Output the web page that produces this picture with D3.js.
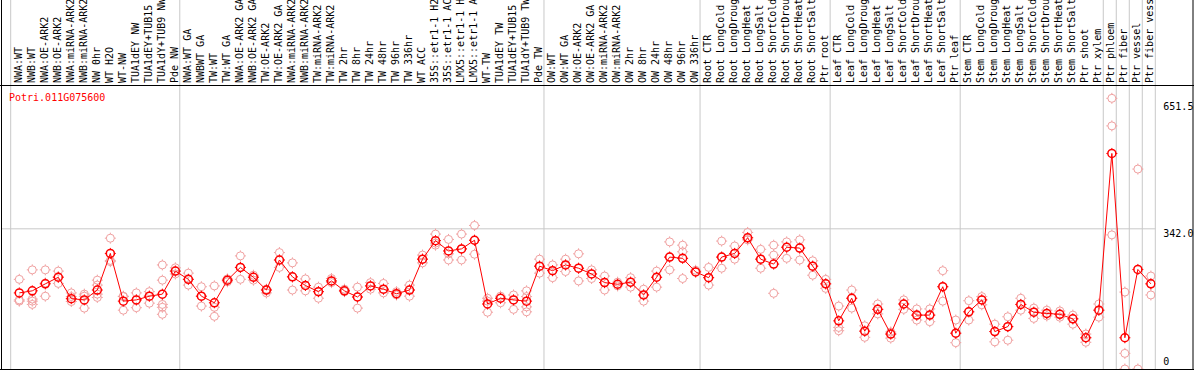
<!DOCTYPE html>
<html>
<head>
<meta charset="utf-8">
<script src="https://cdn.jsdelivr.net/npm/d3@7"></script>
<style>
  body { margin: 0; background: #fff; }
  svg { display: block; }
  text { font-family: "DejaVu Sans Mono", monospace; font-size: 10px; }
</style>
</head>
<body>
<script>
// sample names, in plot order
var categories = [
  "NWA:WT", "NWB:WT", "NWA:OE-ARK2", "NWB:OE-ARK2", "NWA:miRNA-ARK2", "NWB:miRNA-ARK2",
  "NW 0hr", "WT H2O", "WT-NW", "TUA1dEY NW", "TUA1dEY+TUB15", "TUA1dY+TUB9 NW", "Pde NW",
  "NWA:WT GA", "NWBWT GA", "TW:WT", "TW:WT GA", "NWA:OE-ARK2 GA", "NWB:OE-ARK2 GA",
  "TW:OE-ARK2", "TW:OE-ARK2 GA", "NWA:miRNA-ARK2 ", "NWB:miRNA-ARK2 ", "TW:miRNA-ARK2",
  "TW:miRNA-ARK2 ", "TW 2hr", "TW 8hr", "TW 24hr", "TW 48hr", "TW 96hr", "TW 336hr", "WT ACC",
  "35S::etr1-1 H2O", "35S::etr1-1 ACC", "LMX5::etr1-1 H2O", "LMX5::etr1-1 ACC", "WT-TW",
  "TUA1dEY TW", "TUA1dEY+TUB15 ", "TUA1dY+TUB9 TW", "Pde TW",
  "OW:WT", "OW:WT GA", "OW:OE-ARK2", "OW:OE-ARK2 GA", "OW:miRNA-ARK2", "OW:miRNA-ARK2 ",
  "OW 2hr", "OW 8hr", "OW 24hr", "OW 48hr", "OW 96hr", "OW 336hr",
  "Root CTR", "Root LongCold", "Root LongDrought", "Root LongHeat", "Root LongSalt",
  "Root ShortCold", "Root ShortDrought", "Root ShortHeat", "Root ShortSalt", "Ptr root",
  "Leaf CTR", "Leaf LongCold", "Leaf LongDrought", "Leaf LongHeat", "Leaf LongSalt",
  "Leaf ShortCold", "Leaf ShortDrought", "Leaf ShortHeat", "Leaf ShortSalt", "Ptr leaf",
  "Stem CTR", "Stem LongCold", "Stem LongDrought", "Stem LongHeat", "Stem LongSalt",
  "Stem ShortCold", "Stem ShortDrought", "Stem ShortHeat", "Stem ShortSalt", "Ptr shoot",
  "Ptr xylem", "Ptr phloem", "Ptr fiber", "Ptr vessel", "Ptr fiber vessel"
];
var groupSizes = [13, 28, 12, 10, 10, 11, 1, 1, 1, 1];

var geneName = "Potri.011G075600";

// mean expression per sample
var means = [
  185, 190, 207, 223, 171, 168, 192, 281, 165, 168, 177, 182, 238,
  218, 177, 161, 216, 247, 223, 192, 265, 224, 203, 188, 214, 190, 175, 202, 194, 183, 192,
  267, 312, 287, 292, 313, 158, 172, 168, 165, 250,
  239, 253, 245, 231, 210, 206, 211, 180, 223, 272, 269, 236,
  222, 272, 281, 319, 267, 255, 296, 294, 250, 207,
  117, 172, 92, 145, 85, 158, 131, 131, 200, 87,
  139, 168, 91, 103, 157, 138, 135, 133, 122, 76, 143,
  524, 76, 242, 207
];

// replicate values per sample
var reps = [
  [218, 165, 168], [241, 170, 157, 165], [241, 177, 209], [238, 208, 224], [185, 164, 176],
  [182, 148, 177], [216, 182, 174, 204], [318, 261, 264], [176, 143, 177], [185, 149, 168],
  [188, 160, 177], [253, 216, 157, 150, 133], [246, 238, 231],
  [233, 204, 218], [200, 153, 177], [202, 150, 128], [212, 219, 216], [275, 218, 247],
  [228, 216, 224], [185, 194, 192], [283, 247, 265], [258, 192, 224], [219, 190, 203],
  [199, 172, 188], [220, 214, 210], [194, 190, 188], [199, 148, 175], [210, 194, 202],
  [208, 185, 194], [188, 180, 183], [204, 177, 192], [277, 258, 267], [328, 301, 306],
  [315, 265, 280], [328, 265, 292], [349, 279, 313], [172, 138, 165], [177, 161, 172],
  [180, 145, 168], [190, 176, 151, 139], [267, 233, 250],
  [253, 222, 239], [267, 237, 253], [280, 214, 245], [241, 220, 231], [226, 192, 210],
  [211, 202, 206], [222, 199, 211], [194, 165, 180], [238, 199, 223], [309, 241, 272],
  [301, 285, 220], [236, 240],
  [247, 204, 222], [311, 245, 272], [299, 267, 281], [332, 314, 319], [291, 245, 267],
  [301, 277, 184], [309, 269, 296], [314, 265, 294], [263, 228, 250], [218, 196, 207],
  [153, 101, 93], [192, 148, 172], [105, 77, 92], [158, 134, 145], [75, 90, 85],
  [168, 145, 158], [146, 119, 131], [146, 115, 131], [239, 165, 200], [119, 64, 87],
  [166, 119, 139], [176, 156, 168], [109, 66, 91], [127, 70, 103], [172, 143, 157],
  [148, 123, 138], [143, 129, 135], [126, 141, 133], [131, 109, 122], [85, 65, 76],
  [158, 126, 143],
  [658, 591, 326], [187, 38, 0], [486, 0], [226, 180, 207]
];

var tickValues = [651.5, 342.0, 0];
var tickLabels = ["651.5", "342.0", "0"];

var W = 1194, H = 370;
var headerBottom = 85, plotBottom = 369;
var plotLeft = 10.7, plotRight = 1155.3;

var svg = d3.select("body").append("svg")
    .attr("width", W)
    .attr("height", H);

var x = d3.scaleBand()
    .domain(categories)
    .range([plotLeft, plotRight]);
var bw = x.bandwidth();
function px(i) { return x(categories[i]) + bw * 0.66; }

var y = d3.scaleLinear()
    .domain([0, 660])
    .range([plotBottom, 97.5]);

// group separators
var edges = [0];
groupSizes.forEach(function (s) { edges.push(edges[edges.length - 1] + s); });
svg.selectAll("line.sep")
    .data(edges)
    .enter().append("line")
    .attr("class", "sep")
    .attr("x1", function (k) { return k < categories.length ? x(categories[k]) : x(categories[k - 1]) + bw; })
    .attr("x2", function (k) { return k < categories.length ? x(categories[k]) : x(categories[k - 1]) + bw; })
    .attr("y1", 0)
    .attr("y2", plotBottom)
    .attr("stroke", "#c8c8c8")
    .attr("stroke-width", 1);

// 342.0 gridline
svg.append("g")
    .attr("transform", "translate(" + plotRight + ",0)")
    .call(d3.axisLeft(y).tickValues([342.0]).tickSize(plotRight - 1).tickFormat(""))
    .call(function (g) {
        g.select(".domain").remove();
        g.selectAll(".tick line").attr("stroke", "#c8c8c8");
    });

// sample labels (rotated)
svg.selectAll("text.lab")
    .data(categories)
    .enter().append("text")
    .attr("class", "lab")
    .attr("transform", function (d, i) {
        return "translate(" + (px(i) + 2.5) + "," + (headerBottom - 2) + ") rotate(-90)";
    })
    .attr("fill", "#000")
    .text(function (d) { return d.trim(); });

// clip for the plot
svg.append("clipPath").attr("id", "plotclip")
    .append("rect")
    .attr("x", 2).attr("y", headerBottom + 0.5)
    .attr("width", plotRight - 2).attr("height", plotBottom - headerBottom - 0.5);

var plot = svg.append("g").attr("clip-path", "url(#plotclip)");

function marker(g, cx, cy, r, color, sw) {
    var m = g.append("g").attr("transform", "translate(" + cx + "," + cy + ")");
    m.append("circle").attr("r", r).attr("fill", "none")
        .attr("stroke", color).attr("stroke-width", sw);
    [[0, -1], [0, 1], [-1, 0], [1, 0]].forEach(function (v) {
        m.append("line")
            .attr("x1", v[0] * r).attr("y1", v[1] * r)
            .attr("x2", v[0] * (r + 1.5)).attr("y2", v[1] * (r + 1.5))
            .attr("stroke", color).attr("stroke-width", 1);
    });
}

// replicates
reps.forEach(function (arr, i) {
    arr.forEach(function (v) {
        marker(plot, px(i), y(v), 4, "#f0a0a0", 1);
    });
});

// mean line
var line = d3.line()
    .x(function (d, i) { return px(i); })
    .y(function (d) { return y(d); });
plot.append("path")
    .datum(means)
    .attr("fill", "none")
    .attr("stroke", "#ff0000")
    .attr("stroke-width", 1)
    .attr("d", line);

means.forEach(function (v, i) {
    marker(plot, px(i), y(v), 4, "#ff0000", 1.5);
});

// gene title
svg.append("text")
    .attr("x", 9)
    .attr("y", 101)
    .attr("fill", "#ff0000")
    .text(geneName);

// value labels on the right
svg.append("g")
    .attr("transform", "translate(" + (plotRight + 8) + ",0)")
    .call(d3.axisRight(y).tickValues(tickValues).tickSize(0)
        .tickFormat(function (d, i) { return tickLabels[i]; }))
    .call(function (g) {
        g.select(".domain").remove();
        g.selectAll("text")
            .attr("x", 0)
            .attr("dy", function (d) { return d === 0 ? "-0.45em" : "0.85em"; })
            .attr("fill", "#000")
            .style("font-family", "'DejaVu Sans Mono', monospace")
            .style("font-size", "10px")
            .attr("text-anchor", "start");
    });

// frame
var frame = [
    [1.5, 0, 1.5, H],
    [0, headerBottom + 0.5, W, headerBottom + 0.5],
    [0, plotBottom + 0.5, W, plotBottom + 0.5],
    [W - 1, 0, W - 1, H]
];
svg.selectAll("line.frame")
    .data(frame)
    .enter().append("line")
    .attr("x1", function (d) { return d[0]; })
    .attr("y1", function (d) { return d[1]; })
    .attr("x2", function (d) { return d[2]; })
    .attr("y2", function (d) { return d[3]; })
    .attr("stroke", "#000")
    .attr("stroke-width", 1);
</script>
</body>
</html>
